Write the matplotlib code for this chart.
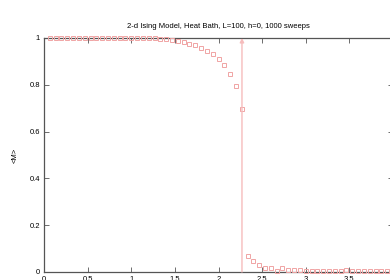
import matplotlib
matplotlib.use("Agg")
import matplotlib.pyplot as plt
import numpy as np

# Data: temperature index k (T = k/15) and magnetization
k_index = list(range(1, 61))
magnetization = [
    1.000, 1.000, 1.000, 1.000, 1.000, 1.000, 1.000, 1.000, 1.000, 1.000,
    1.000, 1.000, 1.000, 1.000, 1.000, 1.000, 0.999, 0.999, 0.998, 0.997,
    0.995, 0.992, 0.988, 0.982, 0.976, 0.968, 0.956, 0.944, 0.930, 0.909,
    0.886, 0.846, 0.795, 0.698, 0.070, 0.046, 0.030, 0.018, 0.016, 0.004,
    0.017, 0.009, 0.009, 0.008, 0.004, 0.005, 0.004, 0.005, 0.003, 0.006,
    0.004, 0.008, 0.004, 0.005, 0.003, 0.005, 0.006, 0.004, 0.004, 0.008,
]
temps = [k / 15.0 for k in k_index]
T_critical = 2.269

x_ticks = [0, 0.5, 1, 1.5, 2, 2.5, 3, 3.5, 4]
x_tick_labels = ["0", "0.5", "1", "1.5", "2", "2.5", "3", "3.5", "4"]
y_ticks = [0, 0.2, 0.4, 0.6, 0.8, 1]
y_tick_labels = ["0", "0.2", "0.4", "0.6", "0.8", "1"]

plt.rcParams['font.family'] = ['Liberation Sans', 'DejaVu Sans']

W, H = 390, 280
fig = plt.figure(figsize=(W / 100, H / 100), dpi=100)
left, right = 44 / W, 393 / W
bottom, top = 8 / H, (H - 38) / H
ax = fig.add_axes([left, bottom, right - left, top - bottom])

marker_color = '#f0a4a4'
ax.plot(temps, magnetization, linestyle='none', marker='s', markersize=3.0,
        markerfacecolor='none', markeredgecolor=marker_color, markeredgewidth=0.7,
        clip_on=False, zorder=3)

ax.annotate('', xy=(T_critical, 1), xytext=(T_critical, 0),
            arrowprops=dict(arrowstyle='-|>', color='#f6bcbc', lw=1.0,
                            mutation_scale=6, shrinkA=0, shrinkB=0))

ax.set_xlim(0, 4)
ax.set_ylim(0, 1)
ax.set_xticks(x_ticks)
ax.set_xticklabels(x_tick_labels)
ax.set_yticks(y_ticks)
ax.set_yticklabels(y_tick_labels)

for s in ax.spines.values():
    s.set_color('#555555')
    s.set_linewidth(0.9)

ax.tick_params(direction='in', length=3.5, width=0.6, color='#555555',
               labelsize=5.5, top=True, right=True, pad=3)
ax.tick_params(axis='x', pad=3)

ax.set_title('2-d Ising Model, Heat Bath, L=100, h=0, 1000 sweeps',
             fontsize=5.5, pad=7)
ax.set_ylabel('<M>', fontsize=5.5, labelpad=8)

fig.savefig('out.png', dpi=100)
